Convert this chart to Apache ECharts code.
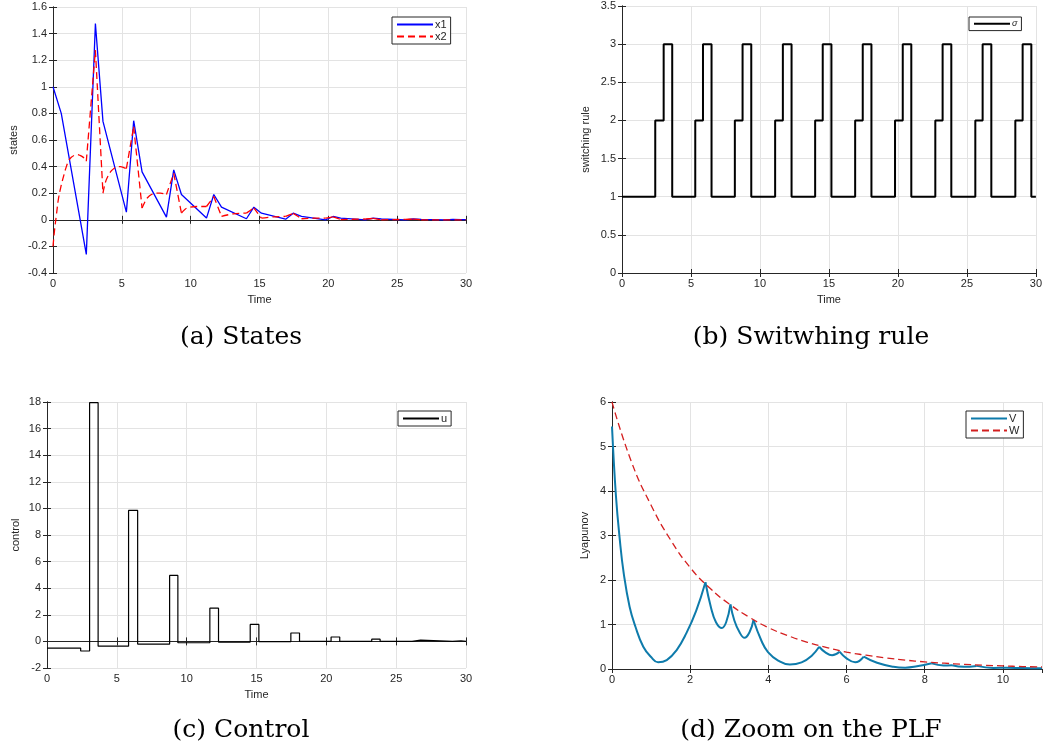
<!DOCTYPE html>
<html>
<head>
<meta charset="utf-8">
<script src="https://cdn.jsdelivr.net/npm/echarts@6/dist/echarts.min.js"></script>
<style>
html,body{margin:0;padding:0;background:#fff;}
#chart{width:1045px;height:751px;}
</style>
</head>
<body>
<div id="chart"></div>
<script>
// ---------- (a) States ----------
const x1T = [0, 0.6, 2.42, 3.08, 3.63, 5.33, 5.86, 6.47, 8.24, 8.77, 9.33, 11.15, 11.68, 12.24, 14.05, 14.59, 15.14, 16.9, 17.45, 18.05, 19.8, 20.35, 20.9, 22.7, 23.26, 23.85, 25.6, 26.15, 26.75, 28.5, 29.05, 29.65, 30];
const x1V = [1.0, 0.8, -0.26, 1.475, 0.74, 0.058, 0.745, 0.36, 0.02, 0.375, 0.19, 0.013, 0.19, 0.095, 0.008, 0.095, 0.05, 0.005, 0.05, 0.025, 0.0, 0.025, 0.012, 0.0, 0.012, 0.006, 0.0, 0.006, 0.003, 0.0, 0.003, 0.002, 0.001];
const x2T = [0, 0.12, 0.24, 0.4, 0.6, 0.8, 0.97, 1.15, 1.33, 1.55, 1.74, 1.95, 2.13, 2.3, 2.42, 3.08, 3.63, 3.8, 4.0, 4.25, 4.48, 4.7, 4.9, 5.1, 5.33, 5.86, 6.47, 6.7, 6.9, 7.15, 7.39, 7.8, 8.24, 8.77, 9.33, 9.6, 9.93, 10.5, 11.15, 11.68, 12.24, 13.1, 14.05, 14.59, 15.14, 16.0, 16.9, 17.45, 18.05, 19.0, 19.8, 20.35, 20.9, 22.7, 23.26, 23.85, 25.6, 26.15, 26.75, 30];
const x2V = [-0.2, -0.07, 0.03, 0.16, 0.26, 0.34, 0.4, 0.445, 0.47, 0.485, 0.49, 0.485, 0.475, 0.46, 0.44, 1.275, 0.2, 0.28, 0.33, 0.37, 0.39, 0.4, 0.4, 0.395, 0.385, 0.7, 0.088, 0.14, 0.17, 0.19, 0.2, 0.2, 0.19, 0.35, 0.05, 0.08, 0.095, 0.1, 0.1, 0.175, 0.025, 0.045, 0.05, 0.09, 0.012, 0.022, 0.025, 0.048, 0.008, 0.012, 0.012, 0.022, 0.002, 0.006, 0.01, 0.0, 0.003, 0.005, 0.0, 0.0];
const x2Cusps = [2.42, 3.08, 3.63, 5.33, 5.86, 6.47, 8.24, 8.77, 9.33, 11.15, 11.68, 12.24, 14.05, 14.59, 15.14, 16.9, 17.45, 18.05, 19.8, 20.35, 20.9, 22.7, 23.26, 23.85, 25.6, 26.15, 26.75];

// ---------- (b) Switching rule ----------
const sigmaT = [0, 2.41, 3.02, 3.64, 5.31, 5.87, 6.49, 8.18, 8.74, 9.37, 11.1, 11.66, 12.29, 14.0, 14.55, 15.18, 16.9, 17.45, 18.08, 19.79, 20.35, 20.97, 22.71, 23.24, 23.87, 25.61, 26.14, 26.77, 28.51, 29.04, 29.67, 30];
const sigmaV = [1, 2, 3, 1, 2, 3, 1, 2, 3, 1, 2, 3, 1, 2, 3, 1, 2, 3, 1, 2, 3, 1, 2, 3, 1, 2, 3, 1, 2, 3, 1, 1];

// ---------- (c) Control ----------
const uT = [0, 2.41, 3.05, 3.66, 5.84, 6.49, 8.78, 9.37, 11.66, 12.28, 14.55, 15.17, 17.46, 18.08, 20.34, 20.96, 23.25, 23.85, 26.14, 26.75, 29.03, 29.64, 30];
const uV = [-0.5, -0.72, 17.95, -0.36, 9.85, -0.2, 4.96, -0.1, 2.5, -0.05, 1.28, -0.02, 0.63, 0, 0.33, 0, 0.17, 0, 0.1, 0, 0.05, 0, 0];

// ---------- (d) Lyapunov ----------
const vT = [0, 0.1, 0.2, 0.3, 0.45, 0.6, 0.8, 1.0, 1.18, 1.4, 1.65, 1.9, 2.15, 2.39, 2.53, 2.66, 2.81, 2.92, 3.03, 3.13, 3.26, 3.39, 3.52, 3.62, 3.82, 3.99, 4.25, 4.55, 4.85, 5.11, 5.3, 5.45, 5.63, 5.82, 6.0, 6.22, 6.44, 6.78, 7.2, 7.5, 7.8, 8.18, 8.48, 8.7, 9.0, 9.33, 9.76, 10.1, 10.5, 11];
const vV = [5.45, 3.9, 2.9, 2.15, 1.4, 0.95, 0.5, 0.27, 0.15, 0.2, 0.42, 0.8, 1.3, 1.95, 1.39, 1.05, 0.92, 1.05, 1.45, 1.09, 0.83, 0.7, 0.83, 1.1, 0.64, 0.38, 0.19, 0.1, 0.15, 0.3, 0.5, 0.38, 0.31, 0.39, 0.24, 0.15, 0.28, 0.14, 0.05, 0.03, 0.06, 0.127, 0.08, 0.085, 0.05, 0.07, 0.025, 0.03, 0.02, 0.015];
const vCusps = [2.39, 3.03, 3.62, 5.3, 5.82, 6.44, 8.18, 8.7, 9.33];
const wT = [0, 0.5, 1, 1.5, 2, 2.5, 3, 3.5, 4, 4.5, 5, 5.5, 6, 6.5, 7, 7.5, 8, 8.5, 9, 9.5, 10, 10.5, 11];
const wV = [6.0, 4.65, 3.68, 2.9, 2.28, 1.82, 1.46, 1.17, 0.93, 0.75, 0.6, 0.48, 0.38, 0.31, 0.25, 0.2, 0.16, 0.13, 0.105, 0.085, 0.07, 0.055, 0.045];

// ---------- helpers ----------
const FONT = 'Liberation Sans, Arial, sans-serif';
const AX = '#262626';
const GRIDC = '#e3e3e3';

function pairs(ts, vs) { return ts.map((t, i) => [t, vs[i]]); }
function splitAt(ts, vs, cusps) {
  const segs = []; let cur = [];
  ts.forEach((t, i) => {
    cur.push([t, vs[i]]);
    if (cusps.indexOf(t) >= 0 && i < ts.length - 1) { segs.push(cur); cur = [[t, vs[i]]]; }
  });
  if (cur.length > 1) segs.push(cur);
  return segs;
}

const grids = [
  {left: 53, right: 579, top: 7, bottom: 478},
  {left: 622, right: 9, top: 6, bottom: 478},
  {left: 47, right: 579, top: 402, bottom: 83},
  {left: 612, right: 3, top: 402, bottom: 82}
];
const xCfg = [
  {min: 0, max: 30, interval: 5, name: 'Time'},
  {min: 0, max: 30, interval: 5, name: 'Time'},
  {min: 0, max: 30, interval: 5, name: 'Time'},
  {min: 0, max: 11, interval: 2, name: ''}
];
const yCfg = [
  {min: -0.4, max: 1.6, interval: 0.2, name: 'states', gap: 34},
  {min: 0, max: 3.5, interval: 0.5, name: 'switching rule', gap: 31},
  {min: -2, max: 18, interval: 2, name: 'control', gap: 26},
  {min: 0, max: 6, interval: 1, name: 'Lyapunov', gap: 22}
];

const xAxis = [], yAxis = [];
grids.forEach((g, i) => {
  const xc = xCfg[i], yc = yCfg[i];
  xAxis.push({
    type: 'value', gridIndex: i, position: 'bottom', min: xc.min, max: xc.max, interval: xc.interval,
    name: xc.name, nameLocation: 'middle', nameGap: 21,
    nameTextStyle: {color: AX, fontFamily: FONT, fontSize: 11},
    axisLine: {show: true, lineStyle: {color: AX, width: 1}},
    axisTick: {show: true, inside: true, length: 4, lineStyle: {color: AX}},
    axisLabel: {color: AX, fontFamily: FONT, fontSize: 11, margin: 5, showMaxLabel: i !== 3},
    splitLine: {show: true, lineStyle: {color: GRIDC, width: 1}}
  });
  xAxis.push({
    type: 'value', gridIndex: i, position: 'top', min: xc.min, max: xc.max, interval: xc.interval,
    axisLine: {show: true, lineStyle: {color: AX, width: 1}},
    axisTick: {show: true, inside: true, length: 4, lineStyle: {color: AX}},
    axisLabel: {show: false}, splitLine: {show: false}
  });
  yAxis.push({
    type: 'value', gridIndex: i, position: 'left', min: yc.min, max: yc.max, interval: yc.interval,
    name: yc.name, nameLocation: 'middle', nameGap: yc.gap, nameRotate: 90,
    nameTextStyle: {color: AX, fontFamily: FONT, fontSize: 11},
    axisLine: {show: true, lineStyle: {color: AX, width: 1}},
    axisTick: {show: true, inside: true, length: 4, lineStyle: {color: AX}},
    axisLabel: {color: AX, fontFamily: FONT, fontSize: 11, margin: 6},
    splitLine: {show: true, lineStyle: {color: GRIDC, width: 1}}
  });
  yAxis.push({
    type: 'value', gridIndex: i, position: 'right', min: yc.min, max: yc.max, interval: yc.interval,
    axisLine: {show: true, lineStyle: {color: AX, width: 1}},
    axisTick: {show: true, inside: true, length: 4, lineStyle: {color: AX}},
    axisLabel: {show: false}, splitLine: {show: false}
  });
});

const series = [];
function line(name, gi, data, color, width, type, extra) {
  series.push(Object.assign({
    type: 'line', name: name, xAxisIndex: 2 * gi, yAxisIndex: 2 * gi, data: data,
    symbol: 'none', showSymbol: false, animation: false, silent: true,
    lineStyle: {color: color, width: width, type: type}, itemStyle: {color: color},
    z: 3
  }, extra || {}));
}
line('x1', 0, pairs(x1T, x1V), '#0000ff', 1.3, 'solid');
splitAt(x2T, x2V, x2Cusps).forEach(seg => line('x2', 0, seg, '#ff0000', 1.3, [7, 4], {smooth: 0.4}));
line('σ', 1, pairs(sigmaT, sigmaV), '#000000', 2, 'solid', {step: 'end'});
line('u', 2, pairs(uT, uV), '#000000', 1.2, 'solid', {step: 'end'});
splitAt(vT, vV, vCusps).forEach(seg => line('V', 3, seg, '#0e7bab', 2, 'solid', {smooth: 0.45}));
line('W', 3, pairs(wT, wV), '#d41f1f', 1.3, [7, 4], {smooth: 0.5});

function legend(names, left, top, extraText) {
  return {
    data: names, orient: 'vertical', left: left, top: top,
    itemWidth: 36, itemHeight: 12, itemGap: 1, padding: [2, 4, 2, 4],
    borderColor: AX, borderWidth: 1, backgroundColor: '#fff', borderRadius: 0,
    selectedMode: false,
    itemStyle: {opacity: 0},
    textStyle: Object.assign({color: AX, fontFamily: FONT, fontSize: 11, padding: [0, 0, 0, -3]}, extraText || {})
  };
}

const captions = [
  {text: '(a) States', x: 241, y: 337},
  {text: '(b) Switwhing rule', x: 811, y: 337},
  {text: '(c) Control', x: 241, y: 730},
  {text: '(d) Zoom on the PLF', x: 811, y: 730}
];

const option = {
  backgroundColor: '#fff',
  animation: false,
  grid: grids,
  xAxis: xAxis,
  yAxis: yAxis,
  legend: [
    legend(['x1', 'x2'], 392, 17),
    legend(['σ'], 969, 17, {fontStyle: 'italic', fontSize: 9}),
    legend(['u'], 398, 411),
    legend(['V', 'W'], 966, 411)
  ],
  series: series,
  graphic: captions.map(c => ({
    type: 'text', x: c.x, y: c.y,
    style: {text: c.text, fill: '#000', font: '25px "DejaVu Serif", serif', textAlign: 'center', textVerticalAlign: 'middle'}
  }))
};

const chart = echarts.init(document.getElementById('chart'), null, {renderer: 'canvas'});
chart.setOption(option);
</script>
</body>
</html>
